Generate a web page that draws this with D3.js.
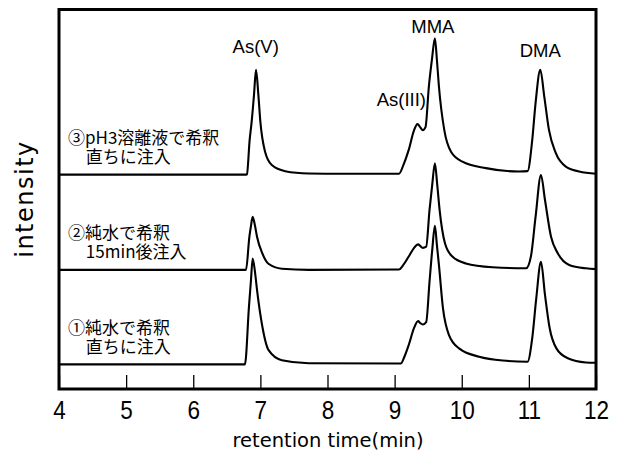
<!DOCTYPE html>
<html>
<head>
<meta charset="utf-8">
<script src="https://cdn.jsdelivr.net/npm/d3@7"></script>
<style>
  html, body { margin: 0; padding: 0; background: #fff; }
  svg { display: block; }
  text { fill: #000; }
</style>
</head>
<body>
<svg id="chart" width="622" height="454"></svg>
<script>
// ---- data ----
const xTicks = [4, 5, 6, 7, 8, 9, 10, 11, 12];
const xLabel = "retention time(min)";
const yLabel = "intensity";

// trace ③ pH3溶離液で希釈 直ちに注入 (top)
const time3 = [4.00, 6.79, 6.80, 6.84, 6.87, 6.905, 6.935, 6.97, 7.00, 7.07, 7.17, 7.37, 7.72, 8.22,
  9.065, 9.13, 9.21, 9.29, 9.34, 9.38, 9.42, 9.46, 9.51, 9.555, 9.60, 9.63, 9.66, 9.74, 9.84, 10.01, 10.36, 10.85,
  10.98, 11.05, 11.10, 11.17, 11.23, 11.30, 11.40, 11.55, 11.75, 12.00];
const int3 = [56.5, 56.5, 56.6, 65.6, 70.4, 77.5, 84.1, 77.5, 70.4, 62.5, 59.0, 57.4, 56.8, 56.7,
  56.7, 59.0, 63.0, 68.2, 69.8, 69.0, 68.2, 69.0, 79.7, 86.7, 92.4, 86.7, 79.7, 68.2, 62.5, 59.9, 58.2, 57.3,
  57.4, 65.6, 75.4, 84.1, 77.0, 68.2, 62.2, 58.6, 57.3, 56.7];

// trace ② 純水で希釈 15min後注入 (middle)
const time2 = [4.00, 6.786, 6.836, 6.86, 6.885, 6.92, 6.95, 7.03, 7.12, 7.32, 7.72,
  9.065, 9.13, 9.21, 9.29, 9.35, 9.38, 9.42, 9.47, 9.52, 9.56, 9.60, 9.635, 9.67, 9.75, 9.86, 10.06, 10.46, 10.96,
  11.03, 11.10, 11.18, 11.24, 11.33, 11.43, 11.60, 11.85, 12.00];
const int2 = [31.4, 31.4, 40.1, 43.0, 45.4, 43.0, 40.1, 35.7, 33.0, 31.7, 31.4,
  31.5, 32.7, 34.9, 37.2, 38.1, 37.7, 37.2, 37.5, 47.2, 53.8, 59.5, 53.8, 47.2, 38.4, 34.9, 33.1, 32.1, 31.8,
  34.9, 45.4, 56.4, 49.8, 40.1, 35.8, 32.7, 31.8, 31.6];

// trace ① 純水で希釈 直ちに注入 (bottom)
const time1 = [4.00, 6.77, 6.83, 6.86, 6.885, 6.92, 6.95, 7.03, 7.12, 7.32, 7.72,
  9.09, 9.15, 9.21, 9.29, 9.35, 9.38, 9.42, 9.47, 9.52, 9.56, 9.60, 9.63, 9.66, 9.72, 9.81, 9.96, 10.26, 10.61, 10.98,
  11.05, 11.11, 11.18, 11.24, 11.31, 11.41, 11.58, 11.85, 12.00];
const int1 = [6.5, 6.5, 21.7, 28.7, 34.4, 30.8, 26.1, 16.4, 10.3, 7.6, 6.8,
  6.7, 8.7, 11.6, 16.1, 17.9, 17.4, 17.0, 17.6, 28.3, 36.6, 43.0, 37.9, 32.7, 21.3, 14.2, 10.7, 8.5, 7.5, 7.2,
  13.4, 23.9, 33.5, 24.8, 16.0, 10.7, 8.1, 7.0, 6.9];

const peakNames = ["As(V)", "As(III)", "MMA", "DMA"];
const peakTimes = [6.93, 9.10, 9.57, 11.17];
const peakLabelLevels = [88.5, 74.6, 93.8, 87.5];

const sampleLine1 = ["③pH3溶離液で希釈", "②純水で希釈", "①純水で希釈"];
const sampleLine2 = ["直ちに注入", "15min後注入", "直ちに注入"];
const sampleLevel1 = [64.6, 39.6, 14.6];

// ---- layout ----
const L = 59, R = 596, T = 9.5, B = 389;
const svg = d3.select("#chart");
const x = d3.scaleLinear().domain([4, 12]).range([L, R]);
const y = d3.scaleLinear().domain([0, 100]).range([B, T]);
const SANS = "'Liberation Sans', Arial, sans-serif";

// traces
const traces = [[time3, int3], [time2, int2], [time1, int1]];
const line = d3.line().x(d => x(d[0])).y(d => y(d[1])).curve(d3.curveMonotoneX);
svg.append("g").selectAll("path")
  .data(traces.map(([t, v]) => t.map((ti, i) => [ti, v[i]])))
  .join("path")
  .attr("d", line)
  .attr("fill", "none")
  .attr("stroke", "#000")
  .attr("stroke-width", 2.1)
  .attr("stroke-linejoin", "round");

// bottom axis with inward ticks
const ax = svg.append("g").attr("transform", `translate(0,${B})`)
  .call(d3.axisBottom(x).tickValues(xTicks).tickFormat(d3.format("d"))
    .tickSizeInner(-14).tickSizeOuter(0).tickPadding(12));
ax.select(".domain").remove();
ax.selectAll(".tick line").attr("stroke", "#000").attr("stroke-width", 1.3);
ax.selectAll(".tick text")
  .style("font-family", SANS)
  .style("font-size", "25px").attr("fill", "#000")
  .attr("transform", "scale(0.9,1)");

// frame
svg.append("rect").attr("x", L).attr("y", T).attr("width", R - L).attr("height", B - T)
  .attr("fill", "none").attr("stroke", "#000").attr("stroke-width", 3);

// axis titles
svg.append("text").attr("x", 328).attr("y", 447).attr("text-anchor", "middle")
  .style("font-family", "'DejaVu Sans', sans-serif").style("font-size", "19.5px")
  .text(xLabel);
svg.append("text").attr("transform", `translate(33,${199}) rotate(-90)`)
  .attr("text-anchor", "middle")
  .style("font-family", "'DejaVu Sans', sans-serif").style("font-size", "24px")
  .style("letter-spacing", "1.5px").text(yLabel);

// peak labels
svg.append("g").selectAll("text").data(peakNames).join("text")
  .attr("x", (d, i) => x(peakTimes[i]))
  .attr("y", (d, i) => y(peakLabelLevels[i]))
  .attr("text-anchor", "middle")
  .style("font-family", SANS).style("font-size", "18.5px").text(d => d);

// sample labels (two-line)
const sl = svg.append("g").selectAll("text").data(sampleLine1).join("text")
  .attr("y", (d, i) => y(sampleLevel1[i]))
  .style("font-family", "'Noto Sans CJK JP', sans-serif").style("font-size", "17px");
sl.append("tspan").attr("x", x(4.134)).text(d => d);
sl.append("tspan").attr("x", x(4.40)).attr("dy", 19).text((d, i) => sampleLine2[i]);
</script>
</body>
</html>
